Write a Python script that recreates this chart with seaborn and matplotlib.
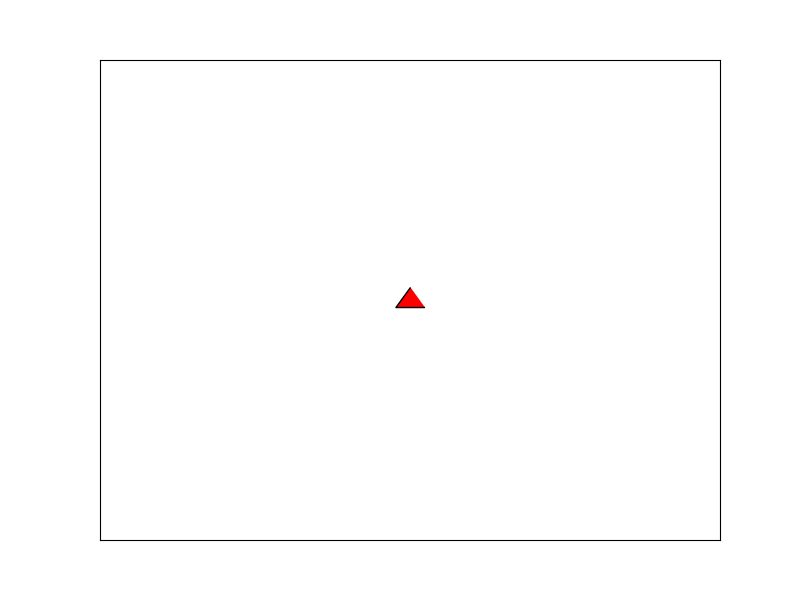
import matplotlib
matplotlib.use("Agg")
import matplotlib.pyplot as plt
import seaborn as sns

# single point marked by a red triangle in the middle of an empty frame
x_vals = [0.5]
y_vals = [0.5]

# triangle a bit wider than tall (drawn like a polygon in data space)
tri = [(0, 13), (-14.5, -7), (14.5, -7)]

fig, ax = plt.subplots(figsize=(8, 6), dpi=100)
fig.subplots_adjust(left=0.125, right=0.9, bottom=0.1, top=0.9)
sns.scatterplot(x=x_vals, y=y_vals, ax=ax, marker=tri, s=440,
                color="red", edgecolor="black", linewidth=1, zorder=3)

ax.set_xlim(0, 1)
ax.set_ylim(0, 1)
ax.set_xticks([])
ax.set_yticks([])
ax.set_xlabel("")
ax.set_ylabel("")

plt.savefig("out.png", dpi=100)
plt.close()
